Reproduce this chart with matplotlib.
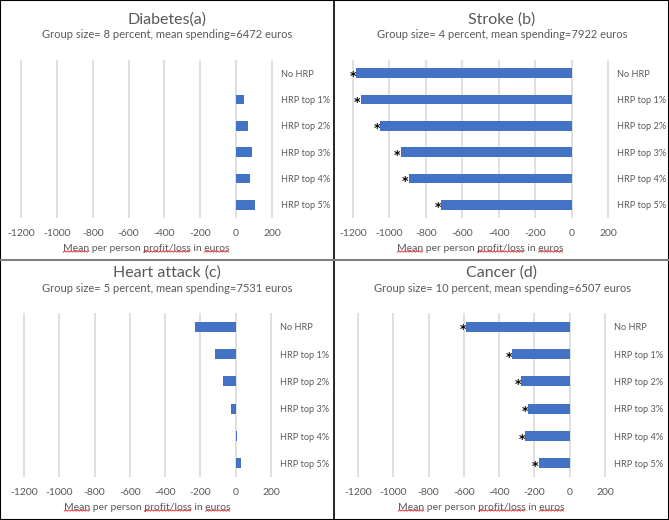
import matplotlib
matplotlib.use('Agg')
import matplotlib.pyplot as plt
from matplotlib.lines import Line2D
import numpy as np

plt.rcParams['font.family'] = ['Lato', 'DejaVu Sans']

# --- data ---
kategorien = ['No HRP', 'HRP top 1%', 'HRP top 2%', 'HRP top 3%', 'HRP top 4%', 'HRP top 5%']

diabetes = [0, 43, 65, 88, 80, 105]
stroke = [-1182, -1156, -1050, -937, -893, -715]
heart_attack = [-229, -115, -72, -26, 9, 30]
cancer = [-586, -325, -274, -234, -251, -176]

titel = ['Diabetes(a)', 'Stroke (b)', 'Heart attack (c)', 'Cancer (d)']
untertitel = ['Group size= 8 percent, mean spending=6472 euros',
              'Group size= 4 percent, mean spending=7922 euros',
              'Group size= 5 percent, mean spending=7531 euros',
              'Group size= 10 percent, mean spending=6507 euros']
signifikant = [False, True, False, True]
xticks = [-1200, -1000, -800, -600, -400, -200, 0, 200]
xlabel_text = 'Mean per person profit/loss in euros'

W, H = 669, 520
fig = plt.figure(figsize=(W / 100, H / 100), dpi=100)

blau = '#4472C4'
grau_text = '#595959'

# Pixel: -1200-Linie, 200-Linie, Gitter oben, Gitter unten, Titelmitte
panels = [
    (21, 272, 60, 218, 167),
    (353, 608, 60, 218, 502),
    (24, 271, 313, 477, 167),
    (358, 605, 313, 477, 502),
]
werte = [diabetes, stroke, heart_attack, cancer]
achsen = []

for p, (x1, x2, yt, yb, xc) in enumerate(panels):
    skala = (x2 - x1) / 1400.0
    pad = 30 * skala
    ax = fig.add_axes([(x1 - pad) / W, 1 - yb / H, (x2 - x1 + 2 * pad) / W, (yb - yt) / H])
    ax.set_xlim(-1230, 230)
    ax.set_ylim(5.5, -0.5)
    y = list(range(len(kategorien)))
    ax.barh(y, werte[p], height=0.37, color=blau, zorder=3)
    if signifikant[p]:
        for i, v in enumerate(werte[p]):
            ax.annotate('*', xy=(v, i), xytext=(-0.3, -2.2), textcoords='offset points',
                        ha='right', va='center', fontsize=9, color='black', zorder=4,
                        family='DejaVu Sans', fontweight='bold')
    ax.set_xticks(xticks)
    ax.set_xticklabels([str(t) for t in xticks])
    ax.grid(axis='x', color='#D9D9D9', linewidth=1.2, zorder=0)
    for s in ax.spines.values():
        s.set_visible(False)
    ax.tick_params(axis='x', length=0, pad=8, labelsize=7.5, labelcolor=grau_text)
    ax.yaxis.tick_right()
    ax.set_yticks(y)
    ax.set_yticklabels(kategorien)
    ax.tick_params(axis='y', length=0, pad=2.6, labelsize=6.6, labelcolor=grau_text)
    ax.set_xlabel(xlabel_text, fontsize=7.5, color=grau_text, labelpad=4)
    achsen.append(ax)

    fig.text(xc / W, 1 - (yt - 40) / H, titel[p], ha='center', va='center',
             fontsize=11.5, color=grau_text)
    fig.text(xc / W, 1 - (yt - 25) / H, untertitel[p], ha='center', va='center',
             fontsize=8, color=grau_text)

# Rote Wellenlinien (Rechtschreibpruefung) unter einigen Woertern
fig.canvas.draw()
renderer = fig.canvas.get_renderer()


def textbreite(s, fp):
    t = fig.text(0, 0, s, fontproperties=fp)
    b = t.get_window_extent(renderer).width
    t.remove()
    return b


for ax in achsen:
    lab = ax.xaxis.label
    bb = lab.get_window_extent(renderer)
    fp = lab.get_fontproperties()
    for wort in ['Mean', 'profit/loss', 'euros']:
        start = xlabel_text.index(wort)
        xa = bb.x0 + textbreite(xlabel_text[:start], fp) if start > 0 else bb.x0
        xe = xa + textbreite(wort, fp)
        xs = np.arange(xa, xe + 0.1, 1.5)
        ys = bb.y0 + 0.5 + np.where(np.arange(len(xs)) % 2 == 0, 0.0, 1.3)
        fig.add_artist(Line2D(xs / W, ys / H, color='#E02020', linewidth=0.6))

# Trennlinien zwischen den Panels
fig.add_artist(Line2D([334 / W, 334 / W], [0, 1], color='black', linewidth=1.2))
fig.add_artist(Line2D([0, 1], [1 - 260 / H, 1 - 260 / H], color='#7F7F7F', linewidth=1.5))
fig.add_artist(plt.Rectangle((0, 0), 1, 1, fill=False, edgecolor='black', linewidth=1.5,
                             transform=fig.transFigure))

plt.savefig('out.png', dpi=100)
plt.close()
